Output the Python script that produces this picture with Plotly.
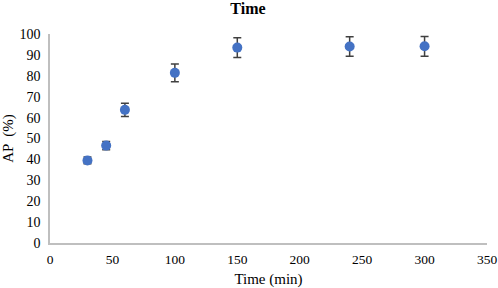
import plotly.graph_objects as go

time_min = [30, 45, 60, 100, 150, 240, 300]
ap_pct = [39.5, 46.6, 63.7, 81.4, 93.5, 94.0, 94.1]
ap_err = [1.6, 2.0, 3.2, 4.3, 4.7, 4.7, 4.7]

font = "Times New Roman"

fig = go.Figure(go.Scatter(
    x=time_min, y=ap_pct, mode="markers",
    marker=dict(color="#4472C4", size=10),
    error_y=dict(type="data", array=ap_err, color="#404040", thickness=1.5, width=4),
))

fig.update_layout(
    width=498, height=288,
    margin=dict(l=50, r=11, t=34, b=45),
    paper_bgcolor="white", plot_bgcolor="white",
    showlegend=False,
    title=dict(text="<b>Time</b>", x=0.498, xanchor="center", y=0.97, yanchor="middle",
               font=dict(family=font, size=16, color="black")),
    font=dict(family=font, size=14, color="black"),
)
fig.update_xaxes(range=[0, 350], tickvals=list(range(0, 351, 50)), showgrid=False, zeroline=False,
                 showline=True, linecolor="#BFBFBF", linewidth=1.5, automargin=False,
                 ticks="outside", ticklen=3, tickcolor="rgba(0,0,0,0)",
                 tickfont=dict(family=font, size=13.5, color="black"),
                 title=dict(text="Time (min)", standoff=8, font=dict(family=font, size=15)))
fig.update_yaxes(range=[0, 100], tickvals=list(range(0, 101, 10)), showgrid=False, zeroline=False,
                 showline=True, linecolor="#BFBFBF", linewidth=1.5, automargin=False,
                 ticks="outside", ticklen=5, tickcolor="rgba(0,0,0,0)",
                 tickfont=dict(family=font, size=14, color="black"),
                 title=dict(text="AP  (%)", standoff=8, font=dict(family=font, size=15)))

fig.write_html("out.html", config={"displayModeBar": False},
               post_script="document.body.style.margin='0';")
